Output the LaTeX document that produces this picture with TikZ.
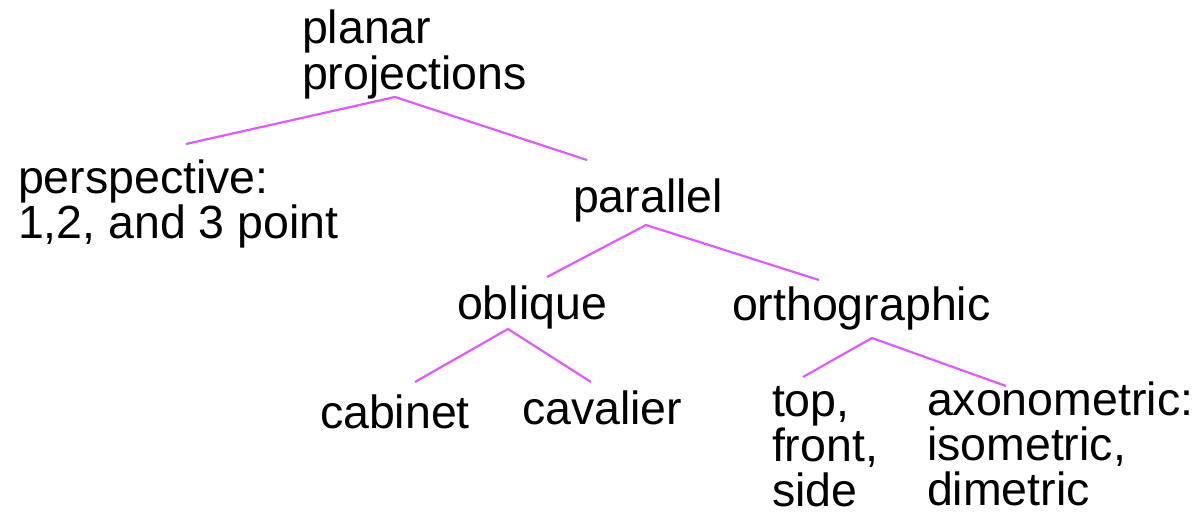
\documentclass[tikz,border=0pt]{standalone}
\usepackage{fontspec}
\setmainfont{Liberation Sans}
\usetikzlibrary{calc}
\definecolor{linkviolet}{RGB}{222,90,255}
% stacked lines whose baseline is the first line
\newcommand\rowsof[1]{\vtop{\halign{##\hfil\cr#1\crcr}}}
\begin{document}
\begin{tikzpicture}[x=1pt,y=-1pt,
  label/.style={anchor=base west,inner sep=0pt,outer sep=0pt,
    font=\fontsize{46.5}{45.5}\selectfont},
  tight/.style={font=\fontsize{46.5}{45}\selectfont},
  link/.style={draw=linkviolet,line width=2.2pt}]
\useasboundingbox (0,0) rectangle (1199,516);

% labels
\node[label] (planar)   at (302,44)  {\rowsof{planar\cr projections}};
\node[label] (persp)    at (18,193)  {\rowsof{perspective:\cr 1,2, and 3 point}};
\node[label] (parallel) at (573,212) {parallel};
\node[label] (oblique)  at (457,319) {oblique};
\node[label] (ortho)    at (732,320) {orthographic};
\node[label] (cabinet)  at (320,428) {cabinet};
\node[label] (cavalier) at (522,424) {cavalier};
\node[label,tight] (views) at (772,416) {\rowsof{top,\cr front,\cr side}};
\node[label,tight] (axono) at (927,415) {\rowsof{axonometric:\cr isometric,\cr dimetric}};

% tree branches
\draw[link] ($(persp.base west)+(168,-49)$) -- ($(planar.base west)+(93,53)$)
            -- ($(parallel.base west)+(14,-52)$);
\draw[link] ($(oblique.base west)+(90,-42)$) -- ($(parallel.base west)+(73,13)$)
            -- ($(ortho.base west)+(87,-40)$);
\draw[link] ($(cabinet.base west)+(95,-46)$) -- ($(oblique.base west)+(51,10)$)
            -- ($(cavalier.base west)+(69,-42)$);
\draw[link] ($(views.base west)+(31,-39)$) -- ($(ortho.base west)+(140,18)$)
            -- ($(axono.base west)+(79,-29)$);
\end{tikzpicture}
\end{document}
